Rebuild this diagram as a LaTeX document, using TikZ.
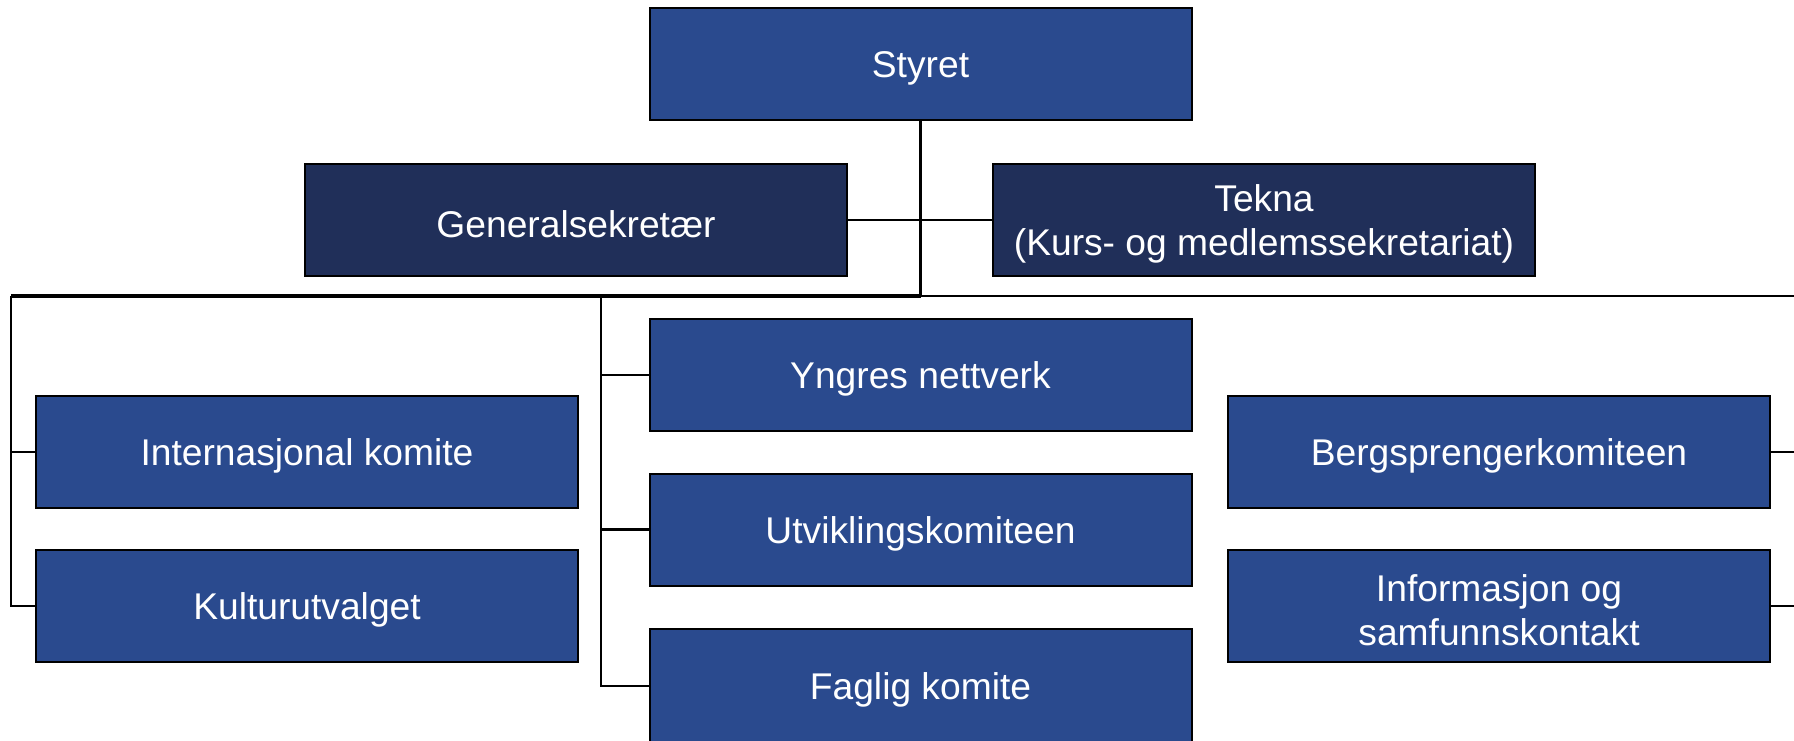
\documentclass[tikz,border=0pt]{standalone}
\usepackage{fontspec}
\setmainfont{Liberation Sans}
\definecolor{boxblue}{RGB}{42,74,142}
\definecolor{boxdark}{RGB}{32,47,89}
\begin{document}
\begin{tikzpicture}[x=0.5pt,y=-0.5pt,
  boxtext/.style={text=white, align=center, inner sep=0pt, yshift=-2pt,
    font=\fontsize{18.6pt}{22pt}\selectfont},
  orgbox/.style={rectangle, draw=black, line width=1pt, fill=boxblue,
    minimum width=271pt, minimum height=56pt, inner sep=0pt},
  darkbox/.style={orgbox, fill=boxdark},
  link/.style={draw=black, line width=1.3pt}]
\useasboundingbox (0,0) rectangle (1794,740);
\clip (0,0) rectangle (1794,740);
% nodes
\node[orgbox, label={[boxtext]center:Styret}] (styret) at (920.5,64) {};
\node[darkbox, label={[boxtext]center:Generalsekretær}] (gen) at (576,220) {};
\node[darkbox, label={[boxtext]center:Tekna\\(Kurs- og medlemssekretariat)}] (tekna) at (1264,220) {};
\node[orgbox, label={[boxtext]center:Internasjonal komite}] (intl) at (307,452) {};
\node[orgbox, label={[boxtext]center:Kulturutvalget}] (kult) at (307,606) {};
\node[orgbox, label={[boxtext]center:Yngres nettverk}] (yngres) at (920.5,375) {};
\node[orgbox, label={[boxtext]center:Utviklingskomiteen}] (utv) at (920.5,529.5) {};
\node[orgbox, minimum height=57pt, label={[boxtext]center:Faglig komite}] (faglig) at (920.5,686) {};
\node[orgbox, label={[boxtext]center:Bergsprengerkomiteen}] (berg) at (1499,452) {};
\node[orgbox, label={[boxtext]center:Informasjon og\\samfunnskontakt}] (info) at (1499,606) {};
% bus coordinates
\coordinate (bus) at (920.5,296);
\coordinate (busL) at (11,296);
\coordinate (busM) at (601,296);
\coordinate (busR) at (1810,296);
\coordinate (colR) at (1810,452);
% connectors
\draw[link] (styret.south) -- (bus);
\draw[link] (gen.east) -- (tekna.west);
\draw[link, line width=1.6pt] (busL) -- (bus);
\draw[link] (bus) -- (busR);
\draw[link] (busL) |- (intl.west);
\draw[link] (busL) |- (kult.west);
\draw[link] (busM) |- (yngres.west);
\draw[link] (busM) |- (utv.west);
\draw[link] (busM) |- (faglig.west);
\draw[link] (berg.east) -- (colR);
\draw[link] (info.east) -- (colR |- info.east);
\end{tikzpicture}
\end{document}
